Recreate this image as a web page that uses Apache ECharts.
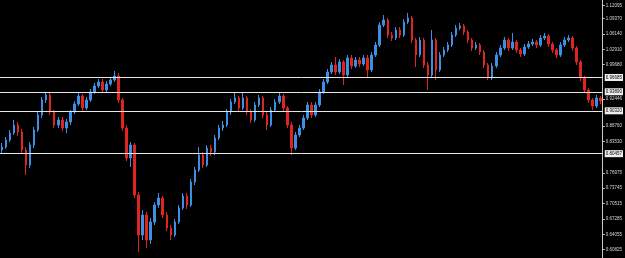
<!DOCTYPE html>
<html>
<head>
<meta charset="utf-8">
<script src="https://cdn.jsdelivr.net/npm/echarts@6/dist/echarts.min.js"></script>
<style>
  html, body { margin: 0; padding: 0; background: #000; }
  #chart { width: 625px; height: 258px; }
</style>
</head>
<body>
<div id="chart"></div>
<script>
// price bars (left -> right)
var opens = [0.8177,0.8240,0.8387,0.8534,0.8702,0.8555,0.8177,0.7862,0.8282,0.8597,
  0.8912,0.9227,0.9332,0.8975,0.8702,0.8807,0.8639,0.8765,0.8975,0.9143,
  0.9311,0.9059,0.9227,0.9395,0.9521,0.9605,0.9437,0.9563,0.9647,0.9731,
  0.9227,0.8639,0.8009,0.8282,0.7232,0.6392,0.6812,0.6287,0.6665,0.7022,
  0.7169,0.6812,0.6539,0.6392,0.6665,0.6959,0.7211,0.7022,0.7505,0.7757,
  0.8072,0.7862,0.8219,0.8135,0.8429,0.8639,0.8702,0.8975,0.9185,0.9269,
  0.9059,0.9269,0.8975,0.8807,0.9122,0.9269,0.8912,0.8702,0.9017,0.9185,
  0.9311,0.9059,0.8702,0.8219,0.8492,0.8639,0.8849,0.9122,0.8912,0.9122,
  0.9395,0.9605,0.9815,0.9962,0.9815,1.0025,0.9752,1.0109,0.9941,1.0067,
  0.9983,1.0109,0.9857,1.0172,1.0382,1.0802,1.0907,1.0592,1.0529,1.0697,
  1.0592,1.0865,1.0949,1.0487,1.0172,1.0487,0.9962,0.9752,1.0487,0.9857,
  1.0172,1.0277,1.0382,1.0592,1.0739,1.0781,1.0655,1.0487,1.0319,1.0382,
  1.0235,0.9962,0.9689,0.9941,1.0172,1.0319,1.0487,1.0319,1.0445,1.0277,
  1.0193,1.0340,1.0403,1.0445,1.0382,1.0529,1.0571,1.0403,1.0277,1.0172,
  1.0382,1.0487,1.0529,1.0319,1.0025,0.9689,0.9437,0.9227,0.9101,0.9269];
var closes = [0.8240,0.8387,0.8534,0.8702,0.8555,0.8177,0.7862,0.8282,0.8597,0.8912,
  0.9227,0.9332,0.8975,0.8702,0.8807,0.8639,0.8765,0.8975,0.9143,0.9311,
  0.9059,0.9227,0.9395,0.9521,0.9605,0.9437,0.9563,0.9647,0.9731,0.9227,
  0.8639,0.8009,0.8282,0.7232,0.6392,0.6812,0.6287,0.6665,0.7022,0.7169,
  0.6812,0.6539,0.6392,0.6665,0.6959,0.7211,0.7022,0.7505,0.7757,0.8072,
  0.7862,0.8219,0.8135,0.8429,0.8639,0.8702,0.8975,0.9185,0.9269,0.9059,
  0.9269,0.8975,0.8807,0.9122,0.9269,0.8912,0.8702,0.9017,0.9185,0.9311,
  0.9059,0.8702,0.8219,0.8492,0.8639,0.8849,0.9122,0.8912,0.9122,0.9395,
  0.9605,0.9815,0.9962,0.9815,1.0025,0.9752,1.0109,0.9941,1.0067,0.9983,
  1.0109,0.9857,1.0172,1.0382,1.0802,1.0907,1.0592,1.0529,1.0697,1.0592,
  1.0865,1.0949,1.0487,1.0172,1.0487,0.9962,0.9752,1.0487,0.9857,1.0172,
  1.0277,1.0382,1.0592,1.0739,1.0781,1.0655,1.0487,1.0319,1.0382,1.0235,
  0.9962,0.9689,0.9941,1.0172,1.0319,1.0487,1.0319,1.0445,1.0277,1.0193,
  1.0340,1.0403,1.0445,1.0382,1.0529,1.0571,1.0403,1.0277,1.0172,1.0382,
  1.0487,1.0529,1.0319,1.0025,0.9689,0.9437,0.9227,0.9101,0.9269,0.9206];
var highs = [0.8324,0.8450,0.8597,0.8807,0.8765,0.8618,0.8240,0.8345,0.8660,0.8975,
  0.9290,0.9395,0.9374,0.9017,0.8870,0.8870,0.8828,0.9017,0.9206,0.9374,
  0.9353,0.9290,0.9458,0.9584,0.9668,0.9668,0.9626,0.9710,0.9836,0.9794,
  0.9269,0.8702,0.8345,0.8324,0.7295,0.6917,0.6875,0.6749,0.7085,0.7274,
  0.7211,0.6875,0.6602,0.6728,0.7022,0.7274,0.7274,0.7568,0.7820,0.8240,
  0.8135,0.8282,0.8282,0.8492,0.8702,0.8786,0.9038,0.9248,0.9374,0.9311,
  0.9374,0.9311,0.9038,0.9185,0.9332,0.9311,0.8975,0.9080,0.9248,0.9374,
  0.9353,0.9101,0.8765,0.8555,0.8702,0.8912,0.9185,0.9185,0.9185,0.9458,
  0.9668,0.9878,1.0025,1.0130,1.0088,1.0067,1.0172,1.0172,1.0130,1.0130,
  1.0172,1.0172,1.0235,1.0445,1.0865,1.1012,1.0949,1.0655,1.0760,1.0760,
  1.0928,1.1054,1.0991,1.0529,1.0550,1.0529,1.0025,1.0697,1.0529,1.0235,
  1.0340,1.0445,1.0655,1.0802,1.0844,1.0823,1.0697,1.0529,1.0445,1.0424,
  1.0277,1.0004,1.0004,1.0235,1.0382,1.0550,1.0529,1.0634,1.0487,1.0319,
  1.0403,1.0466,1.0508,1.0487,1.0592,1.0634,1.0613,1.0445,1.0319,1.0445,
  1.0550,1.0592,1.0571,1.0361,1.0067,0.9731,0.9479,0.9269,0.9332,0.9311];
var lows = [0.8114,0.8198,0.8345,0.8492,0.8471,0.8114,0.7652,0.7799,0.8219,0.8555,
  0.8849,0.9164,0.8912,0.8639,0.8639,0.8576,0.8534,0.8702,0.8933,0.9101,
  0.8975,0.9017,0.9185,0.9353,0.9479,0.9374,0.9395,0.9521,0.9605,0.9164,
  0.8576,0.7946,0.7820,0.7169,0.6035,0.6287,0.6119,0.6203,0.6602,0.6959,
  0.6749,0.6476,0.6287,0.6350,0.6623,0.6917,0.6938,0.6980,0.7442,0.7715,
  0.7799,0.7820,0.8051,0.8072,0.8387,0.8576,0.8660,0.8912,0.9143,0.8996,
  0.9017,0.8912,0.8744,0.8765,0.9080,0.8849,0.8597,0.8660,0.8975,0.9143,
  0.8996,0.8639,0.8072,0.8177,0.8450,0.8597,0.8807,0.8849,0.8870,0.9080,
  0.9353,0.9563,0.9773,0.9752,0.9773,0.9542,0.9710,0.9878,0.9899,0.9920,
  0.9941,0.9710,0.9815,1.0130,1.0340,1.0760,1.0529,1.0466,1.0487,1.0529,
  1.0550,1.0823,1.0424,0.9920,1.0130,0.9899,0.9437,0.9710,0.9647,0.9815,
  1.0130,1.0235,1.0340,1.0550,1.0697,1.0592,1.0424,1.0256,1.0277,1.0172,
  0.9899,0.9647,0.9647,0.9899,1.0130,1.0277,1.0256,1.0277,1.0214,1.0130,
  1.0151,1.0298,1.0361,1.0319,1.0340,1.0487,1.0340,1.0214,1.0109,1.0130,
  1.0340,1.0445,1.0256,0.9962,0.9626,0.9374,0.9164,0.9017,0.9059,0.9143];

// price scale labels on the right
var yTicks = [1.12095, 1.09370, 1.06140, 1.02910, 0.99680, 0.92446, 0.86760,
  0.83530, 0.76975, 0.73745, 0.70515, 0.67285, 0.64055, 0.60825];
// horizontal levels and their boxed labels
var levels = [0.9668, 0.9389, 0.9032, 0.8051];
var levelLabels = ['0.96685', '0.93890', '0.90320', '0.80457'];

var cats = [];
var candles = [];
closes.map(function (c, i) {
    cats.push(i);
    candles.push([opens[i], c, lows[i], highs[i]]);
});

var myChart = echarts.init(document.getElementById('chart'));

myChart.setOption({
    backgroundColor: '#000',
    animation: false,
    grid: { left: 0, right: 21, top: 0, bottom: 0 },
    xAxis: {
        type: 'category',
        data: cats,
        boundaryGap: true,
        axisLine: { show: false },
        axisTick: { show: false },
        axisLabel: { show: false },
        splitLine: { show: false }
    },
    yAxis: {
        type: 'value',
        position: 'right',
        min: 0.5909,
        max: 1.1327,
        axisLine: { show: true, lineStyle: { color: '#c8c8c8', width: 1 } },
        axisTick: { show: true, length: 2, customValues: yTicks, lineStyle: { color: '#c8c8c8' } },
        axisLabel: {
            customValues: yTicks,
            margin: 3,
            color: '#d8d8d8',
            fontSize: 4.5,
            fontFamily: 'Liberation Sans',
            formatter: function (v) { return v.toFixed(5); }
        },
        splitLine: { show: false }
    },
    series: [{
        type: 'candlestick',
        data: candles,
        barWidth: 2,
        itemStyle: {
            color: '#3d8fe6',
            color0: '#e0241f',
            borderColor: '#3d8fe6',
            borderColor0: '#e0241f',
            borderWidth: 1
        },
        markLine: {
            silent: true,
            symbol: 'none',
            lineStyle: { color: '#e6e6e6', width: 1, type: 'solid' },
            label: {
                show: true,
                position: 'end',
                distance: 2,
                color: '#000',
                backgroundColor: '#eeeeee',
                fontSize: 4.5,
                fontFamily: 'Liberation Sans',
                padding: [1, 1, 1, 1],
                formatter: function (p) { return levelLabels[p.dataIndex]; }
            },
            data: levels.map(function (v) { return { yAxis: v }; })
        }
    }]
});
</script>
</body>
</html>
